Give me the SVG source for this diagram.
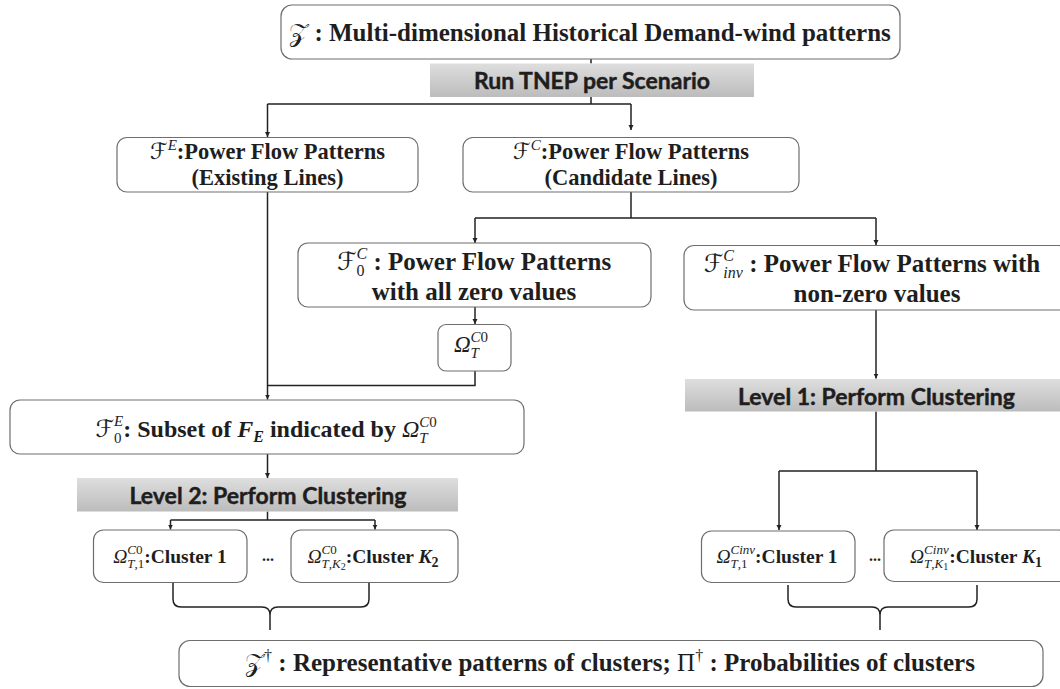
<svg xmlns="http://www.w3.org/2000/svg" width="1060" height="689" viewBox="0 0 1060 689">
<defs>
<linearGradient id="gbar" x1="0" y1="0" x2="0" y2="1">
<stop offset="0" stop-color="#dedede"/>
<stop offset="1" stop-color="#bcbcbc"/>
</linearGradient>
<marker id="arr" markerUnits="userSpaceOnUse" markerWidth="6" markerHeight="6" refX="5" refY="3" orient="auto">
<path d="M0,0.5 L5,3 L0,5.5 z" fill="#222"/>
</marker>
<style>
.box{fill:#fff;stroke:#6e6e6e;stroke-width:1.2}
.bar{fill:url(#gbar)}
.t{font-family:"Liberation Serif","Times New Roman",serif;font-weight:bold;fill:#1e1e1e}
.s{font-family:Lato,"Open Sans","Liberation Sans",sans-serif;font-weight:bold;fill:#1e1e1e;stroke:#1e1e1e;stroke-width:0.45}
.mi{font-family:"Liberation Serif","DejaVu Serif",serif;font-style:italic;font-weight:normal}
.mn{font-family:"Liberation Serif","DejaVu Serif",serif;font-style:normal;font-weight:normal}
.sc{font-family:"DejaVu Serif","DejaVu Sans","Liberation Serif",serif;font-style:normal;font-weight:normal}
.bi{font-style:italic;font-weight:bold}
.conn{stroke:#222;stroke-width:1.5;fill:none}
.arrow{marker-end:url(#arr)}
</style>
</defs>

<g id="connectors">
<path class="conn" d="M591,59 V63.5"/>
<path class="conn" d="M591,97 V104 M267.5,104 H631"/>
<path class="conn arrow" d="M267.5,104 V137"/>
<path class="conn arrow" d="M631,104 V130"/>
<path class="conn" d="M631,192 V218 M475,218 H876"/>
<path class="conn arrow" d="M475,218 V243"/>
<path class="conn arrow" d="M876,218 V245"/>
<path class="conn arrow" d="M475,307 V324"/>
<path class="conn" d="M475,371 V385.5 H267.5"/>
<path class="conn arrow" d="M267.5,192 V399.5"/>
<path class="conn arrow" d="M267.5,454 V478"/>
<path class="conn" d="M267.5,511.5 V520 M170.5,520 H375"/>
<path class="conn arrow" d="M170.5,520 V529.5"/>
<path class="conn arrow" d="M375,520 V529.5"/>
<path class="conn arrow" d="M876,310 V378.5"/>
<path class="conn" d="M876,411.5 V471 M779,471 H977"/>
<path class="conn arrow" d="M779,471 V530"/>
<path class="conn arrow" d="M977,471 V530"/>
<path class="conn" d="M173,583 V599 Q173,607 181,607 H262 Q270,607 270,615 V630 M270,615 Q270,607 278,607 H361 Q369,607 369,599 V583"/>
<path class="conn" d="M788,585 V599 Q788,607 796,607 H872 Q880,607 880,615 V630 M880,615 Q880,607 888,607 H969 Q977,607 977,599 V585"/>
</g>

<g id="node-z">
<rect class="box" x="281" y="5" width="619" height="54" rx="11"/>
<text class="t" x="590" y="41" font-size="25" text-anchor="middle"><tspan class="sc">𝒵</tspan> : Multi-dimensional Historical Demand-wind patterns</text>
</g>

<g id="node-tnep">
<rect class="bar" x="430" y="63.5" width="324" height="33.5"/>
<text class="s" x="592" y="88.5" font-size="23" text-anchor="middle">Run TNEP per Scenario</text>
</g>

<g id="node-fe">
<rect class="box" x="117" y="137.5" width="301" height="54.5" rx="10"/>
<text class="t" x="267.5" y="159" font-size="22.5" text-anchor="middle"><tspan class="sc">ℱ</tspan><tspan class="mi" font-size="15" dy="-9">E</tspan><tspan dy="9">:Power Flow Patterns</tspan></text>
<text class="t" x="267.5" y="185" font-size="22.5" text-anchor="middle">(Existing Lines)</text>
</g>

<g id="node-fc">
<rect class="box" x="463" y="137.5" width="336" height="54.5" rx="10"/>
<text class="t" x="631" y="159" font-size="22.5" text-anchor="middle"><tspan class="sc">ℱ</tspan><tspan class="mi" font-size="15" dy="-9">C</tspan><tspan dy="9">:Power Flow Patterns</tspan></text>
<text class="t" x="631" y="185" font-size="22.5" text-anchor="middle">(Candidate Lines)</text>
</g>

<g id="node-f0c">
<rect class="box" x="298" y="243" width="353" height="64" rx="10"/>
<text class="t" x="474" y="270" font-size="25" text-anchor="middle"><tspan class="sc">ℱ</tspan><tspan class="mn" font-size="16" dy="6">0</tspan><tspan class="mi" font-size="16" dx="-8" dy="-17">C</tspan><tspan dy="11"> : Power Flow Patterns</tspan></text>
<text class="t" x="474" y="300" font-size="25" text-anchor="middle">with all zero values</text>
</g>

<g id="node-finv">
<rect class="box" x="684" y="245.5" width="385" height="64.5" rx="10"/>
<text class="t" x="872" y="272" font-size="25" text-anchor="middle"><tspan class="sc">ℱ</tspan><tspan class="mi" font-size="16" dy="6">inv</tspan><tspan class="mi" font-size="16" dx="-19.6" dy="-17">C</tspan><tspan dx="8.9" dy="11"> : Power Flow Patterns with</tspan></text>
<text class="t" x="877" y="302" font-size="25" text-anchor="middle">non-zero values</text>
</g>

<g id="node-omega">
<rect class="box" x="438" y="324.5" width="73" height="46.5" rx="8"/>
<text class="t" x="471" y="352" font-size="23" text-anchor="middle"><tspan class="mi">Ω</tspan><tspan class="mi" font-size="15" dy="-10">C</tspan><tspan class="mn" font-size="15">0</tspan><tspan class="mi" font-size="15" dx="-17.5" dy="16">T</tspan></text>
</g>

<g id="node-f0e">
<rect class="box" x="10" y="400" width="514" height="54" rx="10"/>
<text class="t" x="266" y="437" font-size="24" text-anchor="middle"><tspan class="sc">ℱ</tspan><tspan class="mn" font-size="15" dy="6">0</tspan><tspan class="mi" font-size="15" dx="-7.5" dy="-17">E</tspan><tspan dy="11">: Subset of </tspan><tspan class="bi">F</tspan><tspan class="bi" font-size="16" dy="5">E</tspan><tspan dy="-5"> indicated by </tspan><tspan class="mi">Ω</tspan><tspan class="mi" font-size="15" dy="-10">C</tspan><tspan class="mn" font-size="15">0</tspan><tspan class="mi" font-size="15" dx="-17.5" dy="16">T</tspan></text>
</g>

<g id="node-level2">
<rect class="bar" x="77" y="478" width="381" height="33.5"/>
<text class="s" x="268" y="503.5" font-size="23" text-anchor="middle">Level 2: Perform Clustering</text>
</g>

<g id="node-c01">
<rect class="box" x="93.5" y="530" width="153.5" height="52.5" rx="10"/>
<text class="t" x="170" y="563" font-size="19.5" text-anchor="middle"><tspan class="mi">Ω</tspan><tspan class="mi" font-size="13" dy="-9">C</tspan><tspan class="mn" font-size="13">0</tspan><tspan class="mi" font-size="13" dx="-15.2" dy="14">T</tspan><tspan class="mn" font-size="13">,1</tspan><tspan dy="-5">:Cluster 1</tspan></text>
</g>
<text class="t" x="268" y="561" font-size="16" text-anchor="middle">...</text>

<g id="node-c0k2">
<rect class="box" x="291" y="530" width="167" height="52.5" rx="10"/>
<text class="t" x="373" y="563" font-size="19.5" text-anchor="middle"><tspan class="mi">Ω</tspan><tspan class="mi" font-size="13" dy="-9">C</tspan><tspan class="mn" font-size="13">0</tspan><tspan class="mi" font-size="13" dx="-15.2" dy="14">T</tspan><tspan class="mn" font-size="13">,</tspan><tspan class="mi" font-size="13">K</tspan><tspan class="mn" font-size="10" dy="2">2</tspan><tspan dy="-7">:Cluster </tspan><tspan class="bi">K</tspan><tspan font-size="14" dy="4">2</tspan></text>
</g>

<g id="node-level1">
<rect class="bar" x="685" y="379" width="380" height="32.5"/>
<text class="s" x="876.5" y="404.5" font-size="23" text-anchor="middle">Level 1: Perform Clustering</text>
</g>

<g id="node-ci1">
<rect class="box" x="701.5" y="531" width="153.5" height="51.5" rx="10"/>
<text class="t" x="777" y="563" font-size="19.5" text-anchor="middle"><tspan class="mi">Ω</tspan><tspan class="mi" font-size="13" dy="-9">Cinv</tspan><tspan class="mi" font-size="13" dx="-24.6" dy="14">T</tspan><tspan class="mn" font-size="13">,1</tspan><tspan dx="7.6" dy="-5">:Cluster 1</tspan></text>
</g>
<text class="t" x="875" y="561" font-size="16" text-anchor="middle">...</text>

<g id="node-cik1">
<rect class="box" x="884" y="530" width="185" height="51.5" rx="10"/>
<text class="t" x="976" y="563" font-size="19.5" text-anchor="middle"><tspan class="mi">Ω</tspan><tspan class="mi" font-size="13" dy="-9">Cinv</tspan><tspan class="mi" font-size="13" dx="-24.6" dy="14">T</tspan><tspan class="mn" font-size="13">,</tspan><tspan class="mi" font-size="13">K</tspan><tspan class="mn" font-size="10" dy="2">1</tspan><tspan dx="1" dy="-7">:Cluster </tspan><tspan class="bi">K</tspan><tspan font-size="14" dy="4">1</tspan></text>
</g>

<g id="node-result">
<rect class="box" x="179" y="640.5" width="864" height="46" rx="11"/>
<text class="t" x="610" y="671" font-size="25" text-anchor="middle"><tspan class="sc">𝒵</tspan><tspan class="mn" font-size="16" dy="-10">†</tspan><tspan dy="10"> : Representative patterns of clusters; </tspan><tspan class="mn">Π</tspan><tspan class="mn" font-size="16" dy="-10">†</tspan><tspan dy="10"> : Probabilities of clusters</tspan></text>
</g>
</svg>
